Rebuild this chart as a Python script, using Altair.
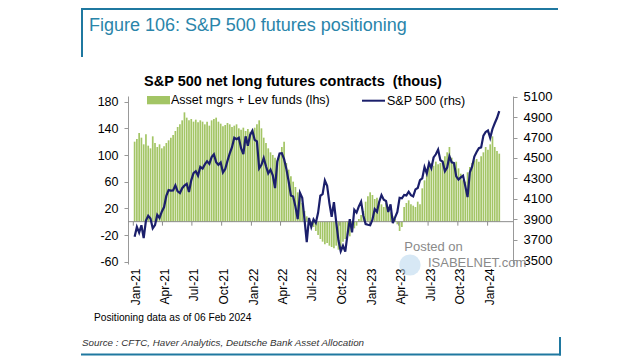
import altair as alt
import pandas as pd

# ---------------- data (weekly, Tuesdays from 5 Jan 2021 to 6 Feb 2024) ----------------
start_date = "2021-01-05"

# Asset managers + leveraged funds net long S&P 500 futures contracts (thousands)
net_long = [
    120, 124, 133, 126, 116, 131, 114, 110, 128, 118, 112, 116, 110, 113, 118, 122, 126, 130, 136, 142, 146, 152, 164,
    156, 152, 154, 150, 153, 149, 152, 150,
    146, 150, 144, 152, 154, 156, 150, 147, 143, 145,
    148, 146, 142, 144, 146, 140, 138, 141,
    136, 139, 135, 138, 141,
    146, 152, 140,
    126, 118, 110, 104, 100,
    96, 92, 100, 112, 120,
    88, 78, 68, 60,
    52, 44, 36, 28,
    16, 8, 2, -4,
    -8, -14, -20, -26, -30, -34, -32, -36, -38,
    -40, -36, -42, -38, -30,
    -26, -20, -22, -14, -10,
    -6, 4, 10, 16,
    30, 38, 44, 40, 34, 36, 30,
    26, 22, 28, 18, 14,
    8, 4, -4, -14, -8,
    22, 28, 32, 26,
    24, 22, 30, 26,
    50, 62, 76, 82,
    88, 84, 90, 86, 88,
    92, 98, 104, 112,
    96, 86, 90, 80, 72,
    62, 60, 74, 82,
    88, 92, 94, 90,
    98, 104, 112, 108, 116,
    128, 112, 106, 102,
]

# S&P 500 index level
sp500 = [
    3727,
    3824, 3768, 3841, 3714, 3886, 3934, 3906, 3811, 3842, 3943, 3913, 3974,
    4019, 4128, 4185, 4180, 4181, 4232, 4173, 4156, 4204, 4230, 4247, 4166, 4281,
    4352, 4370, 4327, 4412, 4395, 4437, 4468, 4442, 4509, 4535, 4459, 4433, 4455,
    4357, 4391, 4471, 4545, 4605, 4697, 4683, 4698, 4595, 4538, 4712, 4620, 4726, 4766,
    4677, 4662, 4398, 4432, 4500, 4419, 4349, 4385, 4329, 4204, 4463, 4543,
    4546, 4488, 4393, 4272, 4132, 4123, 4024, 3901, 4158, 4109, 3901, 3675, 3912,
    3825, 3899, 3863, 3962, 4130, 4145, 4280, 4228, 4058, 3924, 4067, 3873, 3693, 3586,
    3640, 3583, 3752, 3901, 3771, 3993, 3965, 4026, 4072, 3934, 3852, 3845, 3840,
    3895, 3999, 3973, 4071, 4136, 4090, 4079, 3970, 4046, 3862, 3917, 3971, 4109,
    4105, 4138, 4133, 4169, 4136, 4124, 4192, 4205, 4282, 4299, 4410, 4348, 4450,
    4399, 4505, 4536, 4582, 4478, 4464, 4370, 4406, 4516, 4457, 4450, 4320, 4288,
    4309, 4327, 4224, 4117, 4358, 4415, 4514, 4559, 4595, 4604, 4719, 4755, 4770,
    4697, 4784, 4840, 4891, 4959,
]

quarter_ticks = ["2021-01-01", "2021-04-01", "2021-07-01", "2021-10-01",
                 "2022-01-01", "2022-04-01", "2022-07-01", "2022-10-01",
                 "2023-01-01", "2023-04-01", "2023-07-01", "2023-10-01",
                 "2024-01-01"]
left_ticks = [-60, -20, 20, 60, 100, 140, 180]
right_ticks = [3500, 3700, 3900, 4100, 4300, 4500, 4700, 4900, 5100]

# ---------------- frames ----------------
dates = pd.date_range(start_date, periods=len(net_long), freq="7D")
df = pd.DataFrame({"date": dates.strftime("%Y-%m-%d"), "net": net_long, "sp": sp500})
qdf = pd.DataFrame({"date": quarter_ticks, "net": [0] * len(quarter_ticks),
                    "low": [-6] * len(quarter_ticks)})
zdf = pd.DataFrame({"net": [0]})
one = pd.DataFrame({"a": [0]})

FONT = "Liberation Sans"
GREEN = "#a3c565"
NAVY = "#1b1f6b"
TEAL = "#2a85aa"
FRAME = "#1f78a0"

W, H = 385, 168

xscale = alt.Scale(domain=["2020-12-31", "2024-03-04"], nice=False)
tick_values = [alt.DateTime(year=int(d[:4]), month=int(d[5:7]), date=1) for d in quarter_ticks]

x_axis = alt.Axis(values=tick_values, format="%b-%y", labelAngle=270, labelAlign="right",
                  labelBaseline="middle", labelFont=FONT, labelFontSize=12, labelColor="#000",
                  labelPadding=4, domain=False, ticks=False, grid=False, title=None,
                  labelOverlap=False, labelOffset=2)

left_axis = alt.Axis(values=left_ticks, orient="left", labelFont=FONT, labelFontSize=12.5,
                     labelColor="#000", labelPadding=6, tickSize=4, tickColor="#999",
                     domainColor="#999", grid=False, title=None, labelOverlap=False,
                     labelExpr="'' + datum.value")
right_axis = alt.Axis(values=right_ticks, orient="right", labelFont=FONT,
                      labelFontSize=13, labelColor="#000", labelPadding=6, tickSize=4,
                      tickColor="#999", domainColor="#999", grid=False, title=None,
                      labelOverlap=False, labelExpr="'' + datum.value")

yleft = alt.Scale(domain=[-63.5, 188.5], nice=False, zero=False)
yright = alt.Scale(domain=[3461, 5107], nice=False, zero=False)

bars = alt.Chart(df).mark_bar(size=1.7, color=GREEN).encode(
    x=alt.X("date:T", scale=xscale, axis=x_axis),
    y=alt.Y("net:Q", scale=yleft, axis=left_axis),
)
zero_line = alt.Chart(zdf).mark_rule(color="#8c8c8c", strokeWidth=1).encode(
    y=alt.Y("net:Q", scale=yleft, axis=left_axis)
)
xticks = alt.Chart(qdf).mark_rule(color="#8c8c8c", strokeWidth=1).encode(
    x=alt.X("date:T", scale=xscale, axis=x_axis),
    y=alt.Y("net:Q", scale=yleft, axis=left_axis),
    y2="low:Q",
)
left_layer = alt.layer(bars, zero_line, xticks)

line = alt.Chart(df).mark_line(color=NAVY, strokeWidth=2.2).encode(
    x=alt.X("date:T", scale=xscale, axis=x_axis),
    y=alt.Y("sp:Q", scale=yright, axis=right_axis),
)


def text(s, x, y, size, align="left", color="#000", **kw):
    return alt.Chart(one).mark_text(text=s, align=align, baseline="middle", font=FONT,
                                    fontSize=size, color=color, **kw).encode(
        x=alt.value(x), y=alt.value(y))


def box(x1, x2, y1, y2, color):
    return alt.Chart(one).mark_rect(color=color).encode(
        x=alt.value(x1), x2=alt.value(x2), y=alt.value(y1), y2=alt.value(y2))


annotations = [
    box(-47, 430, -88, -86, FRAME),
    box(-47, -45, -88, -39, FRAME),
    text("Figure 106: S&P 500 futures positioning", -39, -70, 18, color=TEAL),
    text("S&P 500 net long futures contracts\u00a0 (thous)", 165, -14.5, 14.5, align="center",
         fontWeight="bold"),
    box(19, 42, 0, 8.3, GREEN),
    box(234, 257, 3.7, 5.7, NAVY),
    text("Asset mgrs + Lev funds (lhs)", 43, 4, 12.5),
    text("S&P 500 (rhs)", 259, 4.5, 12.5),
    text("Positioning data as of 06 Feb 2024", -34, 222, 10.2),
    text("Source : CFTC, Haver Analytics, Deutsche Bank Asset Allocation", -46, 247, 9.8,
         fontStyle="italic", color="#333"),
    box(-47, 433, 257.5, 259.5, FRAME),
    box(431, 433, 241, 259.5, FRAME),
    alt.Chart(one).mark_point(filled=True, shape="circle", size=450, color="#bcd9ee",
                              opacity=0.6).encode(x=alt.value(282), y=alt.value(169)),
    text("Posted on", 305.5, 151, 13, align="center", color="#8a8a8a"),
    text("ISABELNET.com", 300, 167, 13, color="#8a8a8a"),
]

chart = alt.layer(left_layer, line, *annotations).resolve_scale(y="independent").properties(
    width=W, height=H,
    autosize=alt.AutoSizeParams(type="none"),
    padding={"left": 120, "top": 88, "right": 119, "bottom": 92},
    background="white",
).configure_view(stroke=None)

chart.save("out.html", embed_options={"renderer": "svg", "actions": False})
